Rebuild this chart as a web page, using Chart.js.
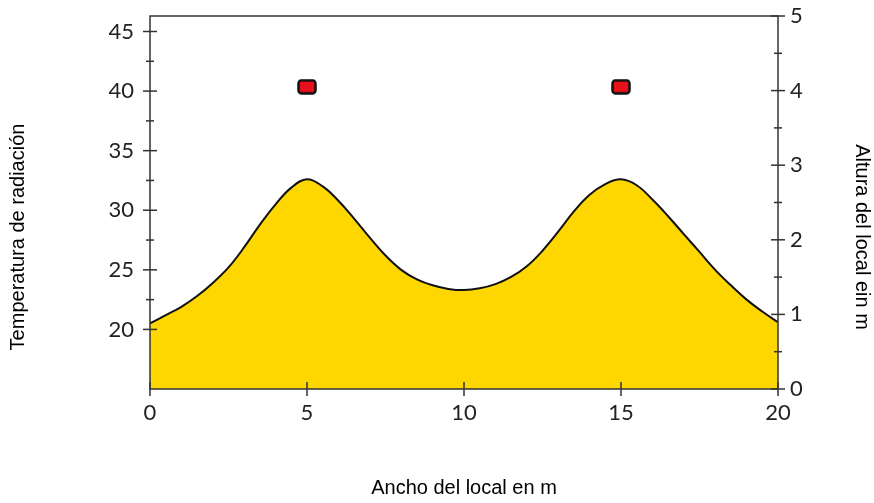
<!DOCTYPE html>
<html>
<head>
<meta charset="utf-8">
<script src="https://cdn.jsdelivr.net/npm/chart.js@4.4.1/dist/chart.umd.min.js"></script>
<style>
  html, body { margin: 0; padding: 0; background: #fff; }
  #wrap { width: 874px; height: 503px; }
</style>
</head>
<body>
<div id="wrap"><canvas id="chart" width="874" height="503"></canvas></div>
<script>
// Data
const widthPos = [0, 0.5, 1, 1.5, 2, 2.5, 3, 3.5, 4, 4.5, 5, 5.5, 6, 6.5, 7, 7.5, 8, 8.5, 9, 9.5, 10,
  10.5, 11, 11.5, 12, 12.5, 13, 13.5, 14, 14.5, 15, 15.5, 16, 16.5, 17, 17.5, 18, 18.5, 19, 19.5, 20];
const radTemp = [20.5, 21.2, 21.9, 22.8, 23.9, 25.2, 26.9, 28.8, 30.5, 31.9, 32.6, 32.0, 30.8, 29.3, 27.7, 26.2, 25.0, 24.2, 23.7, 23.4, 23.3,
  23.45, 23.8, 24.4, 25.3, 26.6, 28.2, 29.9, 31.3, 32.2, 32.6, 32.1, 30.9, 29.5, 28.0, 26.5, 25.0, 23.7, 22.5, 21.5, 20.6];
const heaterPos = [5, 15];
const heaterHeight = [4.05, 4.05];

// Tick labels
const widthTicks = [0, 5, 10, 15, 20];
const tempTicks = [20, 22.5, 25, 27.5, 30, 32.5, 35, 37.5, 40, 42.5, 45];
const heightTicks = [0, 0.5, 1, 1.5, 2, 2.5, 3, 3.5, 4, 4.5, 5];

const leftTitle = "Temperatura de radiación";
const rightTitle = "Altura del local ein m";

const tickFont = { family: "Lato", size: 22 };
const titleFont = { family: "Liberation Sans", size: 20, lineHeight: 1 };

// red heater marker
function heaterIcon() {
  const c = document.createElement("canvas");
  c.width = 20; c.height = 16;
  const g = c.getContext("2d");
  g.fillStyle = "#E8101A";
  g.strokeStyle = "#111";
  g.lineWidth = 2.5;
  g.beginPath();
  g.roundRect(1.5, 1.5, 17, 13, 3);
  g.fill();
  g.stroke();
  return c;
}

// frame, crossing tick marks, side titles
const frameTicks = {
  id: "frameTicks",
  afterDatasetsDraw(chart) {
    const { ctx, chartArea: a, scales } = chart;
    ctx.save();
    ctx.strokeStyle = "#333";
    ctx.lineWidth = 1.5;
    ctx.strokeRect(a.left, a.top, a.right - a.left, a.bottom - a.top);
    const seg = (x1, y1, x2, y2) => {
      ctx.beginPath(); ctx.moveTo(x1, y1); ctx.lineTo(x2, y2); ctx.stroke();
    };
    tempTicks.forEach(v => {
      const y = scales.yT.getPixelForValue(v);
      const len = v % 5 === 0 ? 7 : 4;
      seg(a.left - len, y, a.left + len, y);
    });
    heightTicks.forEach(v => {
      const y = scales.yH.getPixelForValue(v);
      const len = v % 1 === 0 ? 7 : 4;
      seg(a.right - len, y, a.right + len, y);
    });
    widthTicks.forEach(v => {
      const x = scales.x.getPixelForValue(v);
      seg(x, a.bottom - 7, x, a.bottom + 7);
    });

    ctx.fillStyle = "#000";
    ctx.font = titleFont.size + "px '" + titleFont.family + "'";
    ctx.textAlign = "center";
    ctx.textBaseline = "middle";
    ctx.save();
    ctx.translate(18, 237);
    ctx.rotate(-Math.PI / 2);
    ctx.fillText(leftTitle, 0, 0);
    ctx.restore();
    ctx.save();
    ctx.translate(862, 237);
    ctx.rotate(Math.PI / 2);
    ctx.fillText(rightTitle, 0, 0);
    ctx.restore();
    ctx.restore();
  }
};

new Chart(document.getElementById("chart"), {
  type: "line",
  data: {
    datasets: [
      {
        data: widthPos.map((x, i) => ({ x, y: radTemp[i] })),
        yAxisID: "yT",
        fill: "start",
        backgroundColor: "#FFD700",
        borderColor: "#111",
        borderWidth: 2,
        pointRadius: 0,
        tension: 0.4,
        order: 2
      },
      {
        type: "scatter",
        data: heaterPos.map((x, i) => ({ x, y: heaterHeight[i] })),
        yAxisID: "yH",
        pointStyle: heaterIcon(),
        pointRadius: 8,
        order: 1
      }
    ]
  },
  options: {
    responsive: false,
    animation: false,
    devicePixelRatio: 1,
    layout: { padding: { top: 16, left: 0, right: 0, bottom: 0 } },
    plugins: { legend: { display: false }, tooltip: { enabled: false } },
    scales: {
      x: {
        type: "linear",
        min: 0, max: 20,
        afterBuildTicks: s => { s.ticks = widthTicks.map(v => ({ value: v })); },
        afterFit: s => { s.height = 114; },
        grid: { display: false },
        border: { display: false },
        ticks: { font: tickFont, color: "#222", padding: 3, maxRotation: 0 },
        title: { display: true, text: "Ancho del local en m", font: titleFont, color: "#000", padding: { top: 0, bottom: 5 } }
      },
      yT: {
        position: "left",
        min: 15, max: 46.3,
        afterBuildTicks: s => { s.ticks = tempTicks.map(v => ({ value: v })); },
        afterFit: s => { s.width = 150; s.paddingTop = 0; s.paddingBottom = 0; },
        grid: { display: false },
        border: { display: false },
        ticks: { font: tickFont, color: "#222", padding: 8, callback: v => v % 5 === 0 ? v : "" }
      },
      yH: {
        position: "right",
        min: 0, max: 5,
        afterBuildTicks: s => { s.ticks = heightTicks.map(v => ({ value: v })); },
        afterFit: s => { s.width = 96; s.paddingTop = 0; s.paddingBottom = 0; },
        grid: { display: false },
        border: { display: false },
        ticks: { font: tickFont, color: "#222", padding: 4, callback: v => v % 1 === 0 ? v : "" }
      }
    }
  },
  plugins: [frameTicks]
});
</script>
</body>
</html>
